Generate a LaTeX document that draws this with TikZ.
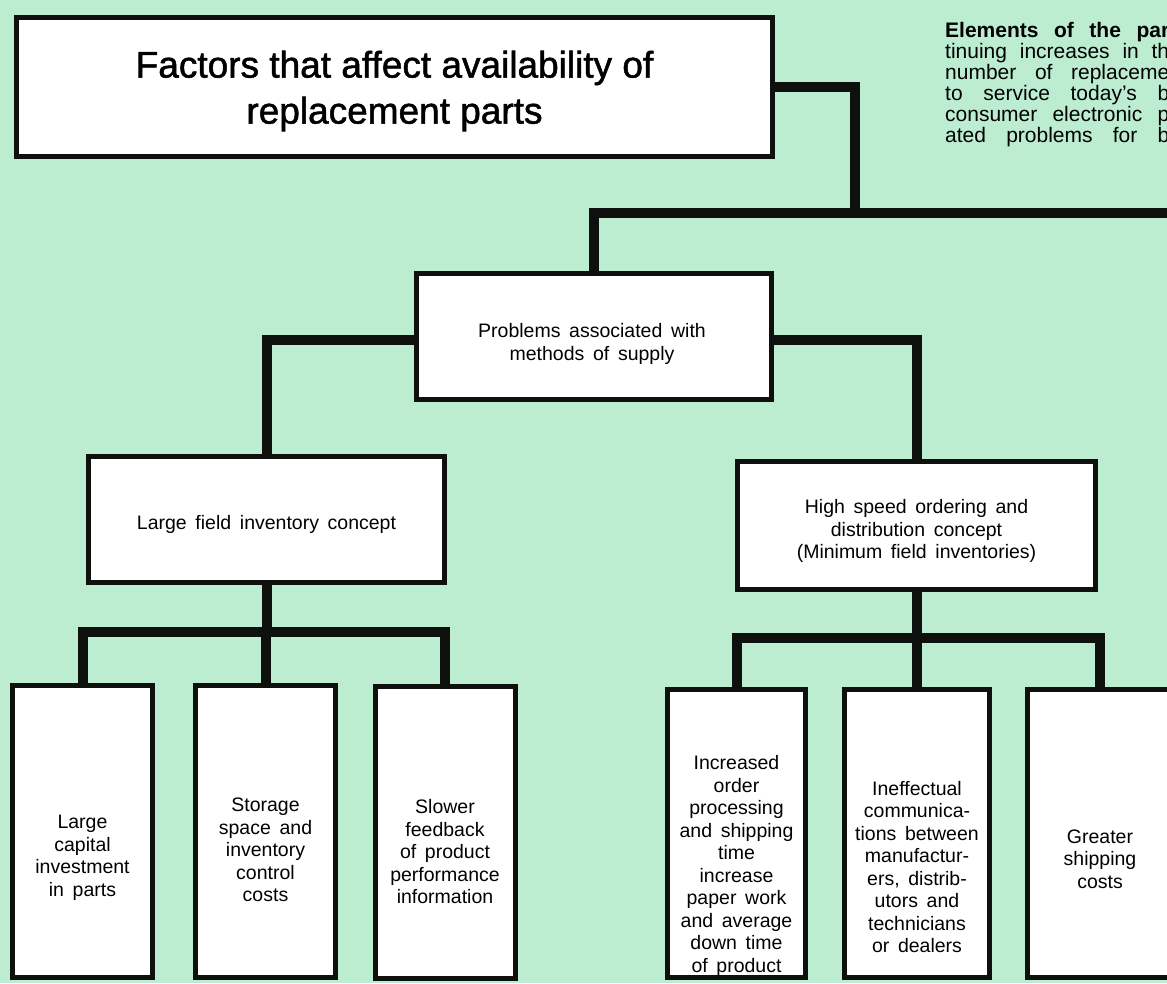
\documentclass[tikz,border=0pt]{standalone}
\usepackage{fontspec}
\setmainfont{Liberation Sans}
\newfontfamily\widefam[WordSpace=1.6]{Liberation Sans}
\newfontfamily\headfam[FakeBold=1.4]{Liberation Sans}
\definecolor{mint}{RGB}{188,237,209}
\definecolor{ink}{RGB}{14,16,14}

\begin{document}
\begin{tikzpicture}[x=1pt, y=-1pt,
  box/.style={draw=ink, line width=5pt, fill=white, inner sep=0pt},
  leaf/.style={box, minimum width=140pt, minimum height=292pt},
  boxtext/.style={align=center, inner sep=0pt,
    font=\widefam\fontsize{19.5}{22.5}\selectfont},
  wire/.style={draw=ink, line width=10pt, line join=miter}]
  \useasboundingbox (0,0) rectangle (1167,983);
  \fill[mint] (0,0) rectangle (1167,983);

  % title
  \node[box, minimum width=756pt, minimum height=139pt] (title) at (394.5,86.5) {};
  \node[align=center, inner sep=0pt, font=\headfam\fontsize{37}{46}\selectfont]
    (title-t) at (394.5,91) {Factors that affect availability of\\replacement parts};

  % side text, cut at the page edge
  \node[anchor=north west, align=left, inner sep=0pt,
    font=\fontsize{21}{21}\selectfont] (blurb) at (945,22)
    {\makebox[224pt][s]{\textbf{Elements of the par}}\\
     \makebox[224pt][s]{tinuing increases in th}\\
     \makebox[224pt][s]{number of replaceme}\\
     \makebox[224pt][s]{to service today's b}\\
     \makebox[224pt][s]{consumer electronic p}\\
     \makebox[224pt][s]{ated problems for b}};

  % second and third levels
  \node[box, minimum width=355pt, minimum height=126pt] (prob) at (594,336.5) {};
  \node[box, minimum width=356pt, minimum height=126pt] (large) at (266.5,519.5) {};
  \node[box, minimum width=358pt, minimum height=128pt] (high) at (916.5,525.5) {};

  \node[boxtext] (prob-t) at (592,344) {Problems associated with\\methods of supply};
  \node[boxtext] (large-t) at (266.5,524) {Large field inventory concept};
  \node[boxtext] (high-t) at (916.5,531) {High speed ordering and\\distribution concept\\(Minimum field inventories)};

  % leaves
  \node[leaf] (cap)  at (82.5,831.5) {};
  \node[leaf] (stor) at (265.5,831.5) {};
  \node[leaf] (feed) at (445,832.5) {};
  \node[leaf, minimum width=138pt, minimum height=288pt] (proc) at (736.5,833.5) {};
  \node[leaf, minimum width=145pt, minimum height=288pt] (comm) at (917,833.5) {};
  \node[leaf, minimum width=145pt, minimum height=288pt] (ship) at (1100,833.5) {};

  \node[boxtext] (cap-t)  at (82.5,858) {Large\\capital\\investment\\in parts};
  \node[boxtext] (stor-t) at (265.5,850) {Storage\\space and\\inventory\\control\\costs};
  \node[boxtext] (feed-t) at (445,852) {Slower\\feedback\\of product\\performance\\information};
  \node[boxtext] (proc-t) at (736.5,866) {Increased\\order\\processing\\and shipping\\time\\increase\\paper work\\and average\\down time\\of product};
  \node[boxtext] (comm-t) at (917,867) {Ineffectual\\communica-\\tions between\\manufactur-\\ers, distrib-\\utors and\\technicians\\or dealers};
  \node[boxtext] (ship-t) at (1100,859) {Greater\\shipping\\costs};

  % connectors
  \coordinate (drop) at (855,213);
  \coordinate (edge) at (1180,213);
  \coordinate (lbus) at (0,632);
  \coordinate (rbus) at (0,638);

  \draw[wire] (title.east) -| (drop);
  \draw[wire] (prob.north) |- (edge);
  \draw[wire] ([yshift=-3pt]prob.west) -| (large.north);
  \draw[wire] ([yshift=-3pt]prob.east) -| (high.north);

  \draw[wire] (large.south) -- (large.south |- lbus);
  \draw[wire] (cap.north) |- (feed.north |- lbus) -- (feed.north);
  \draw[wire] (stor.north) -- (stor.north |- lbus);

  \draw[wire] (high.south) -- (high.south |- rbus);
  \draw[wire] (proc.north) |- (ship.north |- rbus) -- (ship.north);
  \draw[wire] (comm.north) -- (comm.north |- rbus);
\end{tikzpicture}
\end{document}
